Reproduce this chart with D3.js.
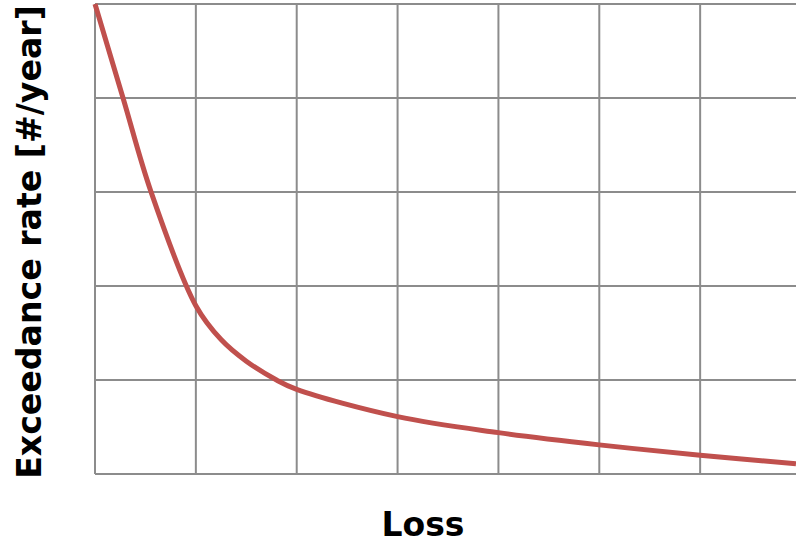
<!DOCTYPE html>
<html>
<head>
<meta charset="utf-8">
<script src="https://cdn.jsdelivr.net/npm/d3@7"></script>
<style>
html,body{margin:0;padding:0;background:#fff;overflow:hidden;}
svg{display:block;}
</style>
</head>
<body>
<svg id="chart" width="796" height="544"></svg>
<script>
// Data
const lossValues = [0, 0.278, 0.556, 1.0, 1.25, 1.5, 1.8, 2.0, 3.0, 4.0, 5.0, 6.0, 6.95];
const rateValues = [5.0, 4.0, 3.0, 1.79, 1.43, 1.20, 1.0, 0.90, 0.61, 0.44, 0.31, 0.20, 0.11];
const xTicks = [0, 1, 2, 3, 4, 5, 6, 7];
const yTicks = [0, 1, 2, 3, 4, 5];
const xLabel = "Loss";
const yLabel = "Exceedance rate [#/year]";

const svg = d3.select("#chart");
const x = d3.scaleLinear().domain([0, 7]).range([95, 801]);
const y = d3.scaleLinear().domain([0, 5]).range([474, 4]);

const grid = svg.append("g");
grid.selectAll("line.v").data(xTicks).enter().append("line")
  .attr("x1", d => x(d)).attr("x2", d => x(d))
  .attr("y1", y(0)).attr("y2", y(5))
  .attr("stroke", "#8c8c8c").attr("stroke-width", 2);
grid.selectAll("line.h").data(yTicks).enter().append("line")
  .attr("x1", x(0)).attr("x2", x(7))
  .attr("y1", d => y(d)).attr("y2", d => y(d))
  .attr("stroke", "#8c8c8c").attr("stroke-width", 2);

const data = lossValues.map((v, i) => [v, rateValues[i]]);
const line = d3.line().x(d => x(d[0])).y(d => y(d[1])).curve(d3.curveCatmullRom.alpha(0.5));
svg.append("path").datum(data)
  .attr("d", line)
  .attr("fill", "none")
  .attr("stroke", "#c0504d")
  .attr("stroke-width", 5);

svg.append("text")
  .attr("x", 423).attr("y", 536)
  .attr("text-anchor", "middle")
  .attr("font-family", "'DejaVu Sans', sans-serif")
  .attr("font-weight", "bold")
  .attr("font-size", 33)
  .attr("fill", "#000")
  .text(xLabel);

const yl = svg.append("text")
  .attr("transform", "translate(41,242) rotate(-90)")
  .attr("text-anchor", "middle")
  .attr("font-family", "'DejaVu Sans', sans-serif")
  .attr("font-weight", "bold")
  .attr("font-size", 32)
  .attr("fill", "#000")
  .text(yLabel);
const len = yl.node().getComputedTextLength();
yl.attr("font-size", 32 * 474 / len);
</script>
</body>
</html>
